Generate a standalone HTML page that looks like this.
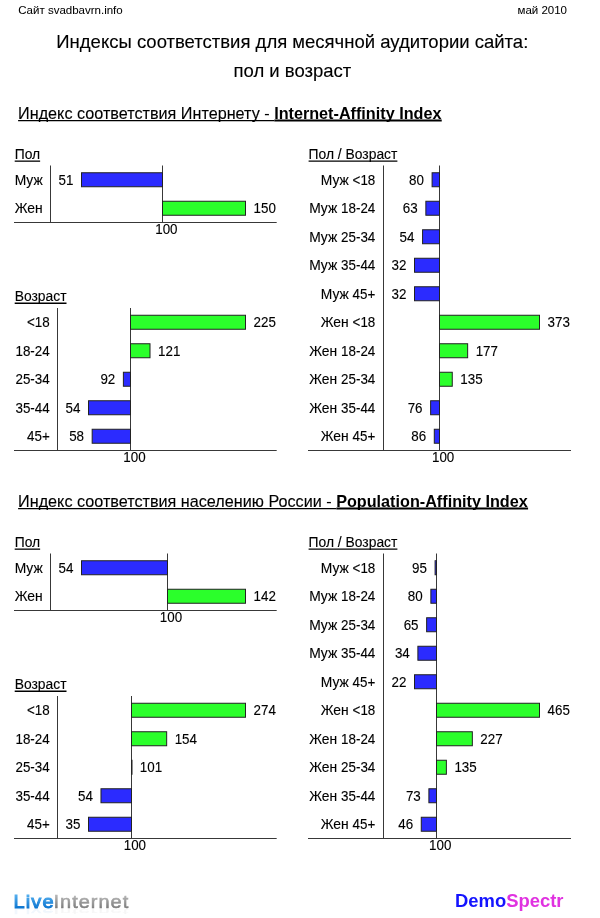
<!DOCTYPE html>
<html lang="ru"><head><meta charset="utf-8"><title>Индексы соответствия</title>
<style>
html,body{margin:0;padding:0;background:#fff}
svg{display:block;font-family:"Liberation Sans",Arial,sans-serif}
text{stroke:#000;stroke-width:0.12px}
text.logo{stroke:none}
</style></head><body>
<svg width="600" height="918" viewBox="0 0 600 918">
<rect width="600" height="918" fill="#fff"/>
<text x="18.20" y="13.80" font-size="11.5" style="stroke-width:0.05px">Сайт svadbavrn.info</text>
<text x="567.00" y="13.80" font-size="11.5" text-anchor="end" style="stroke-width:0.05px">май 2010</text>
<text x="292.30" y="48.40" font-size="18.5" text-anchor="middle">Индексы соответствия для месячной аудитории сайта:</text>
<text x="292.40" y="76.60" font-size="18.5" text-anchor="middle">пол и возраст</text>
<text x="18.1" y="118.90" font-size="16.2" xml:space="preserve">Индекс соответствия Интернету - <tspan font-weight="bold" style="stroke-width:0">Internet-Affinity Index</tspan></text>
<line x1="18.10" y1="120.65" x2="274.33" y2="120.65" stroke="#000" stroke-width="1.3"/>
<line x1="274.33" y1="120.55" x2="441.74" y2="120.55" stroke="#000" stroke-width="2.0"/>
<g class="chart">
<text x="14.70" y="158.60" font-size="13.85">Пол</text>
<line x1="14.70" y1="161.15" x2="40.13" y2="161.15" stroke="#000" stroke-width="1.3"/>
<line x1="50.50" y1="165.50" x2="50.50" y2="222.50" stroke="#383838" stroke-width="1"/>
<line x1="162.50" y1="165.50" x2="162.50" y2="222.50" stroke="#383838" stroke-width="1"/>
<line x1="14.00" y1="222.50" x2="276.70" y2="222.50" stroke="#383838" stroke-width="1"/>
<text x="42.70" y="184.66" font-size="13.85" text-anchor="end">Муж</text>
<text transform="translate(73.40,184.81) scale(0.957,1)" font-size="14" text-anchor="end">51</text>
<rect x="81.50" y="172.75" width="81.00" height="14" fill="#2b2bff" stroke="#222" stroke-width="1"/>
<text x="42.70" y="213.16" font-size="13.85" text-anchor="end">Жен</text>
<text transform="translate(253.50,213.31) scale(0.957,1)" font-size="14">150</text>
<rect x="162.50" y="201.25" width="83.00" height="14" fill="#2bff2b" stroke="#222" stroke-width="1"/>
<text transform="translate(166.37,234.20) scale(0.957,1)" font-size="14" text-anchor="middle">100</text>
</g>
<g class="chart">
<text x="14.70" y="300.70" font-size="13.85">Возраст</text>
<line x1="14.70" y1="303.25" x2="66.51" y2="303.25" stroke="#000" stroke-width="1.3"/>
<line x1="57.50" y1="308.00" x2="57.50" y2="450.50" stroke="#383838" stroke-width="1"/>
<line x1="130.50" y1="308.00" x2="130.50" y2="450.50" stroke="#383838" stroke-width="1"/>
<line x1="14.00" y1="450.50" x2="276.70" y2="450.50" stroke="#383838" stroke-width="1"/>
<text transform="translate(49.70,327.31) scale(0.957,1)" font-size="14" text-anchor="end">&lt;18</text>
<text transform="translate(253.50,327.31) scale(0.957,1)" font-size="14">225</text>
<rect x="130.50" y="315.25" width="115.00" height="14" fill="#2bff2b" stroke="#222" stroke-width="1"/>
<text transform="translate(49.70,355.81) scale(0.957,1)" font-size="14" text-anchor="end">18-24</text>
<text transform="translate(158.01,355.81) scale(0.957,1)" font-size="14">121</text>
<rect x="130.50" y="343.75" width="19.51" height="14" fill="#2bff2b" stroke="#222" stroke-width="1"/>
<text transform="translate(49.70,384.31) scale(0.957,1)" font-size="14" text-anchor="end">25-34</text>
<text transform="translate(115.29,384.31) scale(0.957,1)" font-size="14" text-anchor="end">92</text>
<rect x="123.39" y="372.25" width="7.11" height="14" fill="#2b2bff" stroke="#222" stroke-width="1"/>
<text transform="translate(49.70,412.81) scale(0.957,1)" font-size="14" text-anchor="end">35-44</text>
<text transform="translate(80.40,412.81) scale(0.957,1)" font-size="14" text-anchor="end">54</text>
<rect x="88.50" y="400.75" width="42.00" height="14" fill="#2b2bff" stroke="#222" stroke-width="1"/>
<text transform="translate(49.70,441.31) scale(0.957,1)" font-size="14" text-anchor="end">45+</text>
<text transform="translate(84.07,441.31) scale(0.957,1)" font-size="14" text-anchor="end">58</text>
<rect x="92.17" y="429.25" width="38.33" height="14" fill="#2b2bff" stroke="#222" stroke-width="1"/>
<text transform="translate(134.43,462.20) scale(0.957,1)" font-size="14" text-anchor="middle">100</text>
</g>
<g class="chart">
<text x="308.60" y="158.60" font-size="13.85">Пол / Возраст</text>
<line x1="308.60" y1="161.15" x2="397.39" y2="161.15" stroke="#000" stroke-width="1.3"/>
<line x1="383.50" y1="165.50" x2="383.50" y2="450.50" stroke="#383838" stroke-width="1"/>
<line x1="439.50" y1="165.50" x2="439.50" y2="450.50" stroke="#383838" stroke-width="1"/>
<line x1="308.00" y1="450.50" x2="571.00" y2="450.50" stroke="#383838" stroke-width="1"/>
<text transform="translate(375.30,184.81) scale(0.957,1)" font-size="14" text-anchor="end">&lt;18</text>
<text x="348.72" y="184.66" font-size="13.85" text-anchor="end">Муж</text>
<text transform="translate(424.00,184.81) scale(0.957,1)" font-size="14" text-anchor="end">80</text>
<rect x="432.10" y="172.75" width="7.40" height="14" fill="#2b2bff" stroke="#222" stroke-width="1"/>
<text transform="translate(375.30,213.31) scale(0.957,1)" font-size="14" text-anchor="end">18-24</text>
<text x="337.18" y="213.16" font-size="13.85" text-anchor="end">Муж</text>
<text transform="translate(417.76,213.31) scale(0.957,1)" font-size="14" text-anchor="end">63</text>
<rect x="425.86" y="201.25" width="13.64" height="14" fill="#2b2bff" stroke="#222" stroke-width="1"/>
<text transform="translate(375.30,241.81) scale(0.957,1)" font-size="14" text-anchor="end">25-34</text>
<text x="337.18" y="241.66" font-size="13.85" text-anchor="end">Муж</text>
<text transform="translate(414.46,241.81) scale(0.957,1)" font-size="14" text-anchor="end">54</text>
<rect x="422.56" y="229.75" width="16.94" height="14" fill="#2b2bff" stroke="#222" stroke-width="1"/>
<text transform="translate(375.30,270.31) scale(0.957,1)" font-size="14" text-anchor="end">35-44</text>
<text x="337.18" y="270.16" font-size="13.85" text-anchor="end">Муж</text>
<text transform="translate(406.40,270.31) scale(0.957,1)" font-size="14" text-anchor="end">32</text>
<rect x="414.50" y="258.25" width="25.00" height="14" fill="#2b2bff" stroke="#222" stroke-width="1"/>
<text transform="translate(375.30,298.81) scale(0.957,1)" font-size="14" text-anchor="end">45+</text>
<text x="348.72" y="298.66" font-size="13.85" text-anchor="end">Муж</text>
<text transform="translate(406.40,298.81) scale(0.957,1)" font-size="14" text-anchor="end">32</text>
<rect x="414.50" y="286.75" width="25.00" height="14" fill="#2b2bff" stroke="#222" stroke-width="1"/>
<text transform="translate(375.30,327.31) scale(0.957,1)" font-size="14" text-anchor="end">&lt;18</text>
<text x="348.72" y="327.16" font-size="13.85" text-anchor="end">Жен</text>
<text transform="translate(547.50,327.31) scale(0.957,1)" font-size="14">373</text>
<rect x="439.50" y="315.25" width="100.00" height="14" fill="#2bff2b" stroke="#222" stroke-width="1"/>
<text transform="translate(375.30,355.81) scale(0.957,1)" font-size="14" text-anchor="end">18-24</text>
<text x="337.18" y="355.66" font-size="13.85" text-anchor="end">Жен</text>
<text transform="translate(475.65,355.81) scale(0.957,1)" font-size="14">177</text>
<rect x="439.50" y="343.75" width="28.15" height="14" fill="#2bff2b" stroke="#222" stroke-width="1"/>
<text transform="translate(375.30,384.31) scale(0.957,1)" font-size="14" text-anchor="end">25-34</text>
<text x="337.18" y="384.16" font-size="13.85" text-anchor="end">Жен</text>
<text transform="translate(460.26,384.31) scale(0.957,1)" font-size="14">135</text>
<rect x="439.50" y="372.25" width="12.76" height="14" fill="#2bff2b" stroke="#222" stroke-width="1"/>
<text transform="translate(375.30,412.81) scale(0.957,1)" font-size="14" text-anchor="end">35-44</text>
<text x="337.18" y="412.66" font-size="13.85" text-anchor="end">Жен</text>
<text transform="translate(422.53,412.81) scale(0.957,1)" font-size="14" text-anchor="end">76</text>
<rect x="430.63" y="400.75" width="8.87" height="14" fill="#2b2bff" stroke="#222" stroke-width="1"/>
<text transform="translate(375.30,441.31) scale(0.957,1)" font-size="14" text-anchor="end">45+</text>
<text x="348.72" y="441.16" font-size="13.85" text-anchor="end">Жен</text>
<text transform="translate(426.19,441.31) scale(0.957,1)" font-size="14" text-anchor="end">86</text>
<rect x="434.29" y="429.25" width="5.21" height="14" fill="#2b2bff" stroke="#222" stroke-width="1"/>
<text transform="translate(443.13,462.20) scale(0.957,1)" font-size="14" text-anchor="middle">100</text>
</g>
<text x="18.1" y="506.90" font-size="16.2" xml:space="preserve">Индекс соответствия населению России - <tspan font-weight="bold" style="stroke-width:0">Population-Affinity Index</tspan></text>
<line x1="18.10" y1="508.65" x2="336.41" y2="508.65" stroke="#000" stroke-width="1.3"/>
<line x1="336.41" y1="508.55" x2="528.09" y2="508.55" stroke="#000" stroke-width="2.0"/>
<g class="chart">
<text x="14.70" y="546.60" font-size="13.85">Пол</text>
<line x1="14.70" y1="549.15" x2="40.13" y2="549.15" stroke="#000" stroke-width="1.3"/>
<line x1="50.50" y1="553.50" x2="50.50" y2="610.50" stroke="#383838" stroke-width="1"/>
<line x1="167.50" y1="553.50" x2="167.50" y2="610.50" stroke="#383838" stroke-width="1"/>
<line x1="14.00" y1="610.50" x2="276.70" y2="610.50" stroke="#383838" stroke-width="1"/>
<text x="42.70" y="572.66" font-size="13.85" text-anchor="end">Муж</text>
<text transform="translate(73.40,572.81) scale(0.957,1)" font-size="14" text-anchor="end">54</text>
<rect x="81.50" y="560.75" width="86.00" height="14" fill="#2b2bff" stroke="#222" stroke-width="1"/>
<text x="42.70" y="601.16" font-size="13.85" text-anchor="end">Жен</text>
<text transform="translate(253.50,601.31) scale(0.957,1)" font-size="14">142</text>
<rect x="167.50" y="589.25" width="78.00" height="14" fill="#2bff2b" stroke="#222" stroke-width="1"/>
<text transform="translate(170.93,622.20) scale(0.957,1)" font-size="14" text-anchor="middle">100</text>
</g>
<g class="chart">
<text x="14.70" y="688.70" font-size="13.85">Возраст</text>
<line x1="14.70" y1="691.25" x2="66.51" y2="691.25" stroke="#000" stroke-width="1.3"/>
<line x1="57.50" y1="696.00" x2="57.50" y2="838.50" stroke="#383838" stroke-width="1"/>
<line x1="131.50" y1="696.00" x2="131.50" y2="838.50" stroke="#383838" stroke-width="1"/>
<line x1="14.00" y1="838.50" x2="276.70" y2="838.50" stroke="#383838" stroke-width="1"/>
<text transform="translate(49.70,715.31) scale(0.957,1)" font-size="14" text-anchor="end">&lt;18</text>
<text transform="translate(253.50,715.31) scale(0.957,1)" font-size="14">274</text>
<rect x="131.50" y="703.25" width="114.00" height="14" fill="#2bff2b" stroke="#222" stroke-width="1"/>
<text transform="translate(49.70,743.81) scale(0.957,1)" font-size="14" text-anchor="end">18-24</text>
<text transform="translate(174.67,743.81) scale(0.957,1)" font-size="14">154</text>
<rect x="131.50" y="731.75" width="35.17" height="14" fill="#2bff2b" stroke="#222" stroke-width="1"/>
<text transform="translate(49.70,772.31) scale(0.957,1)" font-size="14" text-anchor="end">25-34</text>
<text transform="translate(139.86,772.31) scale(0.957,1)" font-size="14">101</text>
<rect x="131.50" y="760.25" width="0.50" height="14" fill="#2bff2b" stroke="#222" stroke-width="1"/>
<text transform="translate(49.70,800.81) scale(0.957,1)" font-size="14" text-anchor="end">35-44</text>
<text transform="translate(92.88,800.81) scale(0.957,1)" font-size="14" text-anchor="end">54</text>
<rect x="100.98" y="788.75" width="30.52" height="14" fill="#2b2bff" stroke="#222" stroke-width="1"/>
<text transform="translate(49.70,829.31) scale(0.957,1)" font-size="14" text-anchor="end">45+</text>
<text transform="translate(80.40,829.31) scale(0.957,1)" font-size="14" text-anchor="end">35</text>
<rect x="88.50" y="817.25" width="43.00" height="14" fill="#2b2bff" stroke="#222" stroke-width="1"/>
<text transform="translate(134.90,850.20) scale(0.957,1)" font-size="14" text-anchor="middle">100</text>
</g>
<g class="chart">
<text x="308.60" y="546.60" font-size="13.85">Пол / Возраст</text>
<line x1="308.60" y1="549.15" x2="397.39" y2="549.15" stroke="#000" stroke-width="1.3"/>
<line x1="383.50" y1="553.50" x2="383.50" y2="838.50" stroke="#383838" stroke-width="1"/>
<line x1="436.50" y1="553.50" x2="436.50" y2="838.50" stroke="#383838" stroke-width="1"/>
<line x1="308.00" y1="838.50" x2="571.00" y2="838.50" stroke="#383838" stroke-width="1"/>
<text transform="translate(375.30,572.81) scale(0.957,1)" font-size="14" text-anchor="end">&lt;18</text>
<text x="348.72" y="572.66" font-size="13.85" text-anchor="end">Муж</text>
<text transform="translate(427.00,572.81) scale(0.957,1)" font-size="14" text-anchor="end">95</text>
<rect x="435.10" y="560.75" width="1.40" height="14" fill="#2b2bff" stroke="#222" stroke-width="1"/>
<text transform="translate(375.30,601.31) scale(0.957,1)" font-size="14" text-anchor="end">18-24</text>
<text x="337.18" y="601.16" font-size="13.85" text-anchor="end">Муж</text>
<text transform="translate(422.77,601.31) scale(0.957,1)" font-size="14" text-anchor="end">80</text>
<rect x="430.87" y="589.25" width="5.63" height="14" fill="#2b2bff" stroke="#222" stroke-width="1"/>
<text transform="translate(375.30,629.81) scale(0.957,1)" font-size="14" text-anchor="end">25-34</text>
<text x="337.18" y="629.66" font-size="13.85" text-anchor="end">Муж</text>
<text transform="translate(418.53,629.81) scale(0.957,1)" font-size="14" text-anchor="end">65</text>
<rect x="426.63" y="617.75" width="9.87" height="14" fill="#2b2bff" stroke="#222" stroke-width="1"/>
<text transform="translate(375.30,658.31) scale(0.957,1)" font-size="14" text-anchor="end">35-44</text>
<text x="337.18" y="658.16" font-size="13.85" text-anchor="end">Муж</text>
<text transform="translate(409.79,658.31) scale(0.957,1)" font-size="14" text-anchor="end">34</text>
<rect x="417.89" y="646.25" width="18.61" height="14" fill="#2b2bff" stroke="#222" stroke-width="1"/>
<text transform="translate(375.30,686.81) scale(0.957,1)" font-size="14" text-anchor="end">45+</text>
<text x="348.72" y="686.66" font-size="13.85" text-anchor="end">Муж</text>
<text transform="translate(406.40,686.81) scale(0.957,1)" font-size="14" text-anchor="end">22</text>
<rect x="414.50" y="674.75" width="22.00" height="14" fill="#2b2bff" stroke="#222" stroke-width="1"/>
<text transform="translate(375.30,715.31) scale(0.957,1)" font-size="14" text-anchor="end">&lt;18</text>
<text x="348.72" y="715.16" font-size="13.85" text-anchor="end">Жен</text>
<text transform="translate(547.50,715.31) scale(0.957,1)" font-size="14">465</text>
<rect x="436.50" y="703.25" width="103.00" height="14" fill="#2bff2b" stroke="#222" stroke-width="1"/>
<text transform="translate(375.30,743.81) scale(0.957,1)" font-size="14" text-anchor="end">18-24</text>
<text x="337.18" y="743.66" font-size="13.85" text-anchor="end">Жен</text>
<text transform="translate(480.34,743.81) scale(0.957,1)" font-size="14">227</text>
<rect x="436.50" y="731.75" width="35.84" height="14" fill="#2bff2b" stroke="#222" stroke-width="1"/>
<text transform="translate(375.30,772.31) scale(0.957,1)" font-size="14" text-anchor="end">25-34</text>
<text x="337.18" y="772.16" font-size="13.85" text-anchor="end">Жен</text>
<text transform="translate(454.38,772.31) scale(0.957,1)" font-size="14">135</text>
<rect x="436.50" y="760.25" width="9.88" height="14" fill="#2bff2b" stroke="#222" stroke-width="1"/>
<text transform="translate(375.30,800.81) scale(0.957,1)" font-size="14" text-anchor="end">35-44</text>
<text x="337.18" y="800.66" font-size="13.85" text-anchor="end">Жен</text>
<text transform="translate(420.79,800.81) scale(0.957,1)" font-size="14" text-anchor="end">73</text>
<rect x="428.89" y="788.75" width="7.61" height="14" fill="#2b2bff" stroke="#222" stroke-width="1"/>
<text transform="translate(375.30,829.31) scale(0.957,1)" font-size="14" text-anchor="end">45+</text>
<text x="348.72" y="829.16" font-size="13.85" text-anchor="end">Жен</text>
<text transform="translate(413.17,829.31) scale(0.957,1)" font-size="14" text-anchor="end">46</text>
<rect x="421.27" y="817.25" width="15.23" height="14" fill="#2b2bff" stroke="#222" stroke-width="1"/>
<text transform="translate(440.21,850.20) scale(0.957,1)" font-size="14" text-anchor="middle">100</text>
</g>
<defs>
<linearGradient id="gb" gradientUnits="userSpaceOnUse" x1="0" y1="-13.5" x2="0" y2="0.5"><stop offset="0" stop-color="#58b2f0"/><stop offset="1" stop-color="#0a74d0"/></linearGradient>
<linearGradient id="gg" gradientUnits="userSpaceOnUse" x1="0" y1="-13.5" x2="0" y2="0.5"><stop offset="0" stop-color="#bcbcbc"/><stop offset="1" stop-color="#7c7c7c"/></linearGradient>
<filter id="bl" x="-5%" y="-50%" width="110%" height="200%"><feGaussianBlur stdDeviation="0.5"/></filter>
</defs>
<g><g transform="translate(13.4,907.6) scale(1.08,1)"><text class="logo" x="0" y="0" font-size="18.5" letter-spacing="1.1" fill="url(#gb)" style="stroke:url(#gb);stroke-width:0.95px">Live</text></g><g transform="translate(53.5,907.6) scale(1.08,1)"><text class="logo" x="0" y="0" font-size="18.5" letter-spacing="0.93" fill="url(#gg)" style="stroke:url(#gg);stroke-width:0.55px">Internet</text></g></g>
<g opacity="0.055" filter="url(#bl)"><g transform="translate(13.4,908.5) scale(1.08,-0.35)"><text class="logo" x="0" y="0" font-size="18.5" letter-spacing="1.1" fill="#0a74d0" style="stroke:#0a74d0;stroke-width:0.75px">Live</text></g><g transform="translate(53.5,908.5) scale(1.08,-0.35)"><text class="logo" x="0" y="0" font-size="18.5" letter-spacing="0.93" fill="#666" style="stroke:#666;stroke-width:0.4px">Internet</text></g></g>
<text class="logo" x="455.1" y="907.3" font-size="18.4" font-weight="bold"><tspan fill="#1414ff">Demo</tspan><tspan fill="#e032e0">Spectr</tspan></text>
</svg>
</body></html>
